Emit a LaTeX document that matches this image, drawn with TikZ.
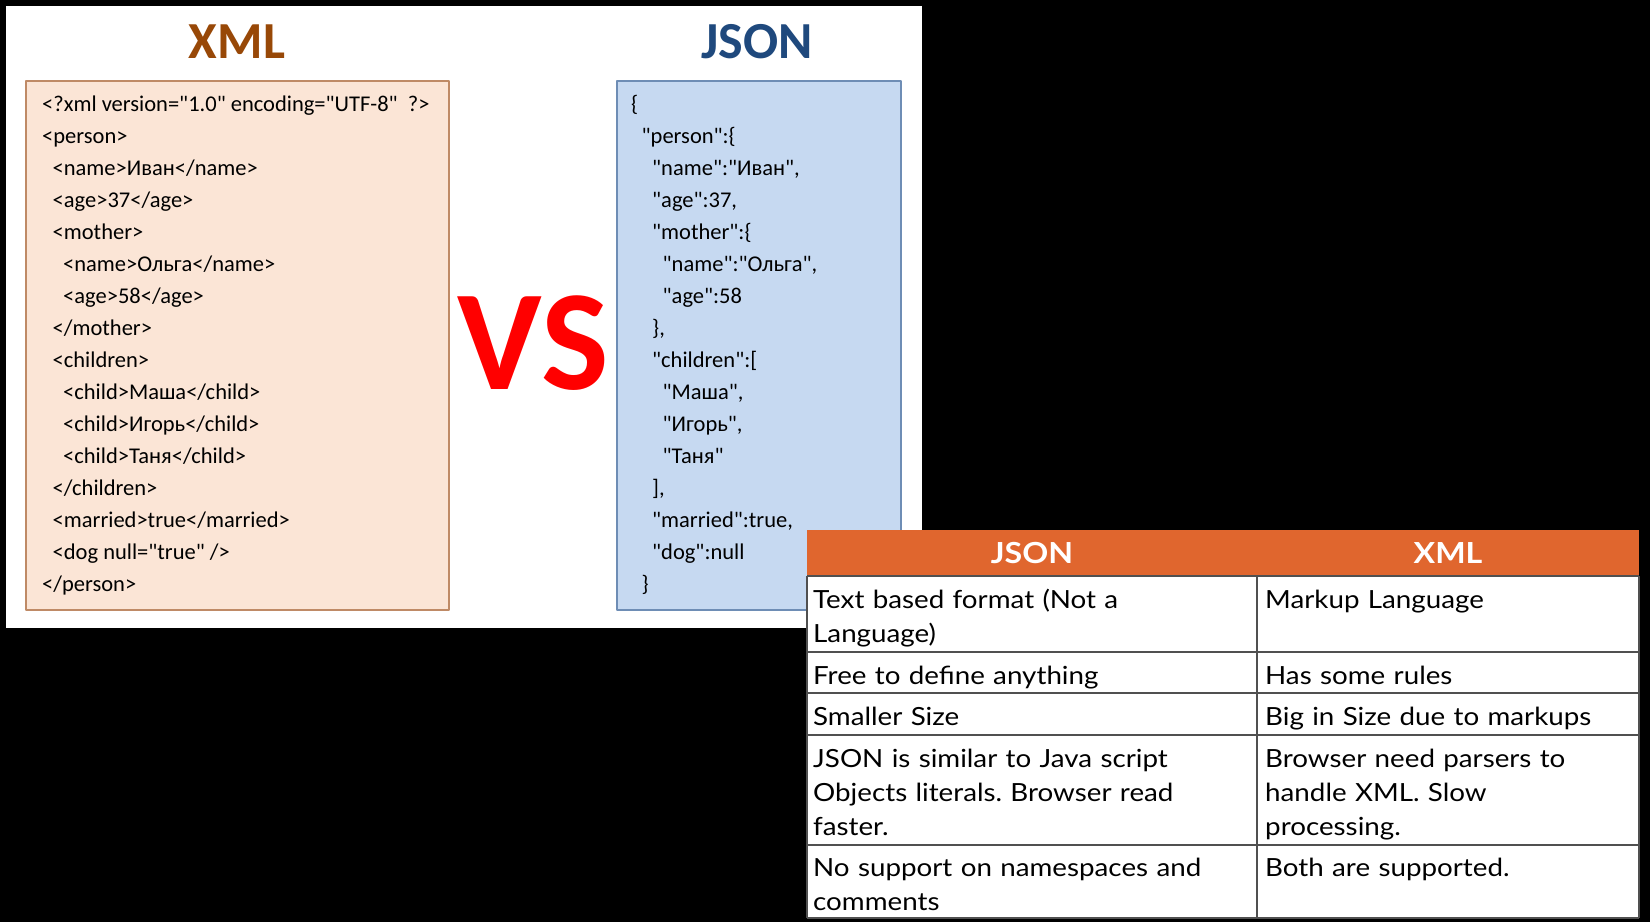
\documentclass[tikz,border=0pt]{standalone}
\usepackage{fontspec}
\setmainfont{Carlito}[Ligatures=TeXOff]
\newfontfamily\tabfont{Lato}[FakeStretch=1.11]
\frenchspacing
\definecolor{xmlbrown}{HTML}{984807}
\definecolor{jsonblue}{HTML}{1F497D}
\definecolor{xmlfill}{HTML}{FBE5D6}
\definecolor{xmledge}{HTML}{BF8A66}
\definecolor{jsonfill}{HTML}{C6D9F1}
\definecolor{jsonedge}{HTML}{6E8DB5}
\definecolor{headorange}{HTML}{E0662E}
\definecolor{gridgray}{HTML}{505050}
\begin{document}
\begin{tikzpicture}[x=1pt, y=-1pt, line join=round,
	title/.style={inner sep=0pt, font=\bfseries\fontsize{52}{52}\selectfont},
	code/.style={anchor=base west, inner sep=0pt, font=\fontsize{22.5}{27}\selectfont},
	head/.style={inner sep=0pt, text=white, font=\tabfont\bfseries\fontsize{29}{29}\selectfont},
	cell/.style={anchor=base west, inner sep=0pt, align=left, font=\tabfont\fontsize{25}{34}\selectfont}]
	\fill[black] (0,0) rectangle (1650,922);
	\fill[white] (6,6) rectangle (922,628);
	% titles
	\node[title, text=xmlbrown] (xmltitle) at (237,42) {XML};
	\node[title, text=jsonblue] (jsontitle) at (757,42) {JSON};
	\node[inner sep=0pt, text=red, font=\bfseries\fontsize{143}{143}\selectfont] (vs) at (533,343) {VS};
	% xml box
	\draw[xmledge, fill=xmlfill, line width=1.5pt] (26,81) rectangle (449,610);
	\foreach \i/\lvl/\txt in {0/0/{<?xml version="1.0" encoding="UTF-8"\ \ ?>}, 1/0/{<person>},
		2/1/{<name>Иван</name>}, 3/1/{<age>37</age>}, 4/1/{<mother>}, 5/2/{<name>Ольга</name>},
		6/2/{<age>58</age>}, 7/1/{</mother>}, 8/1/{<children>}, 9/2/{<child>Маша</child>},
		10/2/{<child>Игорь</child>}, 11/2/{<child>Таня</child>}, 12/1/{</children>},
		13/1/{<married>true</married>}, 14/1/{<dog null="true" />}, 15/0/{</person>}}
		\node[code] (x\i) at (42+10.5*\lvl, 111+32*\i) {\txt};
	% json box
	\draw[jsonedge, fill=jsonfill, line width=1.5pt] (617,81) rectangle (901,610);
	\foreach \i/\lvl/\txt in {0/0/{\{}, 1/1/{"person":\{}, 2/2/{"name":"Иван",}, 3/2/{"age":37,},
		4/2/{"mother":\{}, 5/3/{"name":"Ольга",}, 6/3/{"age":58}, 7/2/{\},}, 8/2/{"children":[},
		9/3/{"Маша",}, 10/3/{"Игорь",}, 11/3/{"Таня"}, 12/2/{],}, 13/2/{"married":true,},
		14/2/{"dog":null}, 15/1/{\}}}
		\node[code] (j\i) at (631+10.5*\lvl, 111+32*\i) {\txt};
	% table
	\fill[white] (807,576) rectangle (1639,918);
	\fill[headorange] (807,530) rectangle (1639,576);
	\node[head] (hjson) at (1032,553) {JSON};
	\node[head] (hxml) at (1448,553) {XML};
	\foreach \y in {576,652,693,735,845,918}
		\draw[gridgray, line width=1.5pt] (807,\y) -- (1639,\y);
	\foreach \x in {807,1257,1639}
		\draw[gridgray, line width=1.5pt] (\x,576) -- (\x,918);
	\node[cell, text width=440pt] (c11) at (813,608) {Text based format (Not a\\Language)};
	\node[cell, text width=370pt] (c12) at (1265,608) {Markup Language};
	\node[cell, text width=440pt] (c21) at (813,684) {Free to define anything};
	\node[cell, text width=370pt] (c22) at (1265,684) {Has some rules};
	\node[cell, text width=440pt] (c31) at (813,725) {Smaller Size};
	\node[cell, text width=370pt] (c32) at (1265,725) {Big in Size due to markups};
	\node[cell, text width=440pt] (c41) at (813,767) {JSON is similar to Java script\\Objects literals. Browser read\\faster.};
	\node[cell, text width=370pt] (c42) at (1265,767) {Browser need parsers to\\handle XML. Slow\\processing.};
	\node[cell, text width=440pt] (c51) at (813,876) {No support on namespaces and\\comments};
	\node[cell, text width=370pt] (c52) at (1265,876) {Both are supported.};
\end{tikzpicture}
\end{document}
